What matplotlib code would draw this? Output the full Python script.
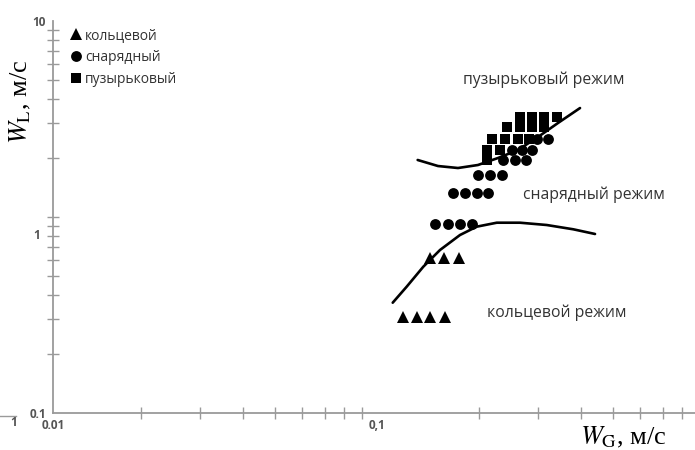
import numpy as np
import matplotlib.pyplot as plt
from matplotlib.ticker import FixedLocator, NullFormatter
import matplotlib.transforms as mtransforms

plt.rcParams['font.family'] = ['Open Sans', 'DejaVu Sans']
plt.rcParams['mathtext.fontset'] = 'stix'

# кольцевой (triangles)
ring_x = [0.1196, 0.1310, 0.1435, 0.1589, 0.1435, 0.1581, 0.1748]
ring_y = [0.310, 0.310, 0.310, 0.310, 0.617, 0.617, 0.617]

# снарядный (circles)
slug_x = [0.1484, 0.1619, 0.1760, 0.1906,
          0.1681, 0.1821, 0.1972, 0.2135,
          0.1989, 0.2160, 0.2338,
          0.2364, 0.2560, 0.2754,
          0.2503, 0.2680, 0.2881,
          0.2969, 0.3199]
slug_y = [0.921, 0.921, 0.921, 0.921,
          1.321, 1.321, 1.321, 1.321,
          1.638, 1.638, 1.638,
          1.943, 1.943, 1.943,
          2.197, 2.197, 2.197,
          2.500, 2.500]

# пузырьковый (squares)
bub_x = [0.2112,
         0.2112, 0.2311,
         0.2193, 0.2392, 0.2607, 0.2817,
         0.2420, 0.2649, 0.2868, 0.3126,
         0.2649, 0.2868, 0.3126, 0.3402]
bub_y = [1.943,
         2.197, 2.197,
         2.500, 2.500, 2.500, 2.500,
         2.879, 2.879, 2.879, 2.879,
         3.249, 3.249, 3.249, 3.249]

# boundary curves
upper_x = [0.1319, 0.1515, 0.1736, 0.1989, 0.2280, 0.2613, 0.2994, 0.3431, 0.3987]
upper_y = [1.954, 1.820, 1.778, 1.842, 2.000, 2.197, 2.559, 3.017, 3.597]
lower_x = [0.1113, 0.1224, 0.1371, 0.1536, 0.1760, 0.1972, 0.2261, 0.2649, 0.3177, 0.3809, 0.4416]
lower_y = [0.3654, 0.4410, 0.5578, 0.6787, 0.8093, 0.8925, 0.9352, 0.9352, 0.9103, 0.8654, 0.8191]

fig = plt.figure(figsize=(6.95, 4.5), dpi=100)
ax = fig.add_axes([53/695, 37/450, 642/695, 392/450])

ax.plot(upper_x, upper_y, color='black', lw=1.9, solid_capstyle='round', zorder=3)
ax.plot(lower_x, lower_y, color='black', lw=1.9, solid_capstyle='round', zorder=3)
ax.plot(ring_x, ring_y, '^', color='black', ms=8.6, mew=0, label='кольцевой', zorder=2)
ax.plot(slug_x, slug_y, 'o', color='black', ms=7.8, mew=0, label='снарядный', zorder=2)
ax.plot(bub_x, bub_y, 's', color='black', ms=7.2, mew=0, label='пузырьковый', zorder=2)

ax.set_xscale('log')
ax.set_yscale('log')
xmin, xmax = 0.0110, 0.8726
ax.set_xlim(xmin, xmax)
ax.set_ylim(0.1, 10)

for s in ['top', 'right']:
    ax.spines[s].set_visible(False)
for s in ['left', 'bottom']:
    ax.spines[s].set_color('#9a9a9a')
    ax.spines[s].set_linewidth(1.3)

ax.xaxis.set_major_locator(FixedLocator([xmin, 0.1]))
ax.set_xticklabels(['0.01', '0,1'])
ax.xaxis.set_minor_locator(FixedLocator([0.02, 0.03, 0.04, 0.05, 0.06, 0.07, 0.08, 0.09,
                                         0.2, 0.3, 0.4, 0.5, 0.6, 0.7, 0.8]))
ax.xaxis.set_minor_formatter(NullFormatter())
ax.yaxis.set_major_locator(FixedLocator([0.1, 10]))
ax.set_yticklabels(['0.1', '10'])
ax.yaxis.set_minor_locator(FixedLocator([0.2, 0.3, 0.4, 0.5, 0.6, 0.7, 0.8, 0.9, 1,
                                         2, 3, 4, 5, 6, 7, 8, 9]))
ax.yaxis.set_minor_formatter(NullFormatter())
ax.tick_params(which='both', direction='inout', length=8, width=1.0, color='#9a9a9a',
               labelsize=8.5, labelcolor='#555555', pad=4)
ax.tick_params(axis='x', which='major', length=0)
ax.tick_params(axis='y', which='major', length=0, pad=5)
for t in ax.get_xticklabels() + ax.get_yticklabels():
    t.set_fontweight('bold')

# "1" label sits a bit low on the original
trans = mtransforms.blended_transform_factory(ax.transAxes, ax.transData)
ax.text(-0.02, 0.8, '1', transform=trans, ha='right', va='center',
        fontsize=8.5, fontweight='bold', color='#555555')
fig.text(14/695, 1 - 423/450, '1', ha='center', va='center', fontsize=8.5,
         fontweight='bold', color='#555555')
fig.add_artist(plt.Line2D([0, 16/695], [1 - 416/450, 1 - 416/450], color='#9a9a9a', lw=1.0))

# regime labels
ax.text(0.1797, 5.0, 'пузырьковый режим', fontsize=11.3, color='#333333', va='center')
ax.text(0.2704, 1.294, 'снарядный режим', fontsize=11.3, color='#333333', va='center')
ax.text(0.2115, 0.3237, 'кольцевой режим', fontsize=11.3, color='#333333', va='center')

# axis titles
fig.text(20/695, 1 - 102/450, r'$W_{\mathrm{L}}$, м/с', rotation=90, ha='center', va='center',
         fontsize=19, family=['Liberation Serif', 'DejaVu Serif'])
fig.text(623/695, 1 - 437/450, r'$W_{\mathrm{G}}$, м/с', ha='center', va='center',
         fontsize=19, family=['Liberation Serif', 'DejaVu Serif'])

leg = ax.legend(loc='upper left', bbox_to_anchor=(71.8/695, 1 - 27.7/450),
                bbox_transform=fig.transFigure, frameon=False, fontsize=10,
                handlelength=0.6, handletextpad=0.35, labelspacing=0.5,
                borderpad=0, borderaxespad=0, markerscale=1.0)
for t in leg.get_texts():
    t.set_color('#333333')

fig.savefig('out.png', dpi=100)
